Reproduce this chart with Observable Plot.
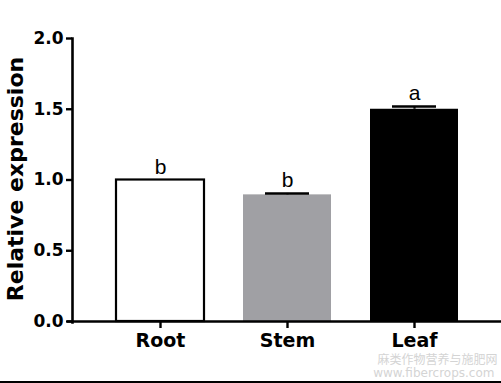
<!DOCTYPE html>
<html>
<head>
<meta charset="utf-8">
<script src="https://cdn.jsdelivr.net/npm/d3@7"></script>
<script src="https://cdn.jsdelivr.net/npm/@observablehq/plot@0.6"></script>
<style>
  html, body { margin: 0; padding: 0; background: #fff; }
  #chart { width: 501px; height: 381px; border-bottom: 2px solid #000; }
  #chart svg { display: block; }
</style>
</head>
<body>
<div id="chart"></div>
<script>
const tissues = ["Root", "Stem", "Leaf"];
const values = [1.0, 0.895, 1.50];
const errors = [0.0, 0.01, 0.02];
const letters = ["b", "b", "a"];
const fills = ["#ffffff", "#a0a0a4", "#000000"];
const yTicks = [0, 0.5, 1.0, 1.5, 2.0];
const yTitle = "Relative expression";
const watermark = ["麻类作物营养与施肥网", "www.fibercrops.com"];

const data = tissues.map((t, i) => ({
  tissue: t, value: values[i], err: errors[i], top: values[i] + errors[i],
  letter: letters[i], fill: fills[i]
}));

const boldFont = "DejaVu Sans, sans-serif";

const plot = Plot.plot({
  width: 501,
  height: 381,
  marginLeft: 72,
  marginRight: 0,
  marginTop: 38,
  marginBottom: 60,
  style: { background: "#fff", overflow: "visible" },
  x: { domain: tissues, range: [95.5, 478], paddingInner: 0.31, paddingOuter: 0.155, axis: null },
  y: { domain: [0, 2], axis: null },
  marks: [
    Plot.barY(data, {
      x: "tissue", y: "value", fill: d => d.fill,
      stroke: d => d.tissue === "Root" ? "#000" : "none", strokeWidth: 2.2
    }),
    Plot.ruleX(data.filter(d => d.err > 0), { x: "tissue", y1: "value", y2: "top", stroke: "#000", strokeWidth: 2.2 }),
    Plot.tickY(data.filter(d => d.err > 0), { x: "tissue", y: "top", stroke: "#000", strokeWidth: 2.5, insetLeft: 22, insetRight: 22 }),
    Plot.text(data, {
      x: "tissue", y: "top", text: "letter", dy: -13,
      fontSize: 21, fontFamily: "Liberation Sans, Arial, sans-serif", fill: "#000"
    }),
    // axes
    Plot.frame({ anchor: "left", stroke: "#000", strokeWidth: 2.6, insetBottom: -1 }),
    Plot.ruleY([0], { stroke: "#000", strokeWidth: 2.6, insetLeft: -5 }),
    Plot.axisY({
      ticks: yTicks, tickFormat: d3.format(".1f"), tickSize: 6, tickPadding: 3,
      stroke: "#000", strokeWidth: 2.4, fontSize: 17, fontWeight: "bold",
      fontFamily: boldFont, fill: "#000", label: null
    }),
    Plot.axisX({
      tickSize: 7, tickPadding: 5, stroke: "#000", strokeWidth: 2.4,
      fontSize: 19, fontWeight: "bold", fontFamily: boldFont, fill: "#000", label: null
    }),
    Plot.text([yTitle], {
      frameAnchor: "left", text: d => d, rotate: -90, dx: -57, dy: -1, textAnchor: "middle",
      fontSize: 22, fontWeight: "bold", fontFamily: boldFont, fill: "#000"
    }),
    Plot.text([watermark[0]], {
      frameAnchor: "bottom-right", text: d => d, dx: -4, dy: 42, textAnchor: "end",
      fontSize: 12, fontFamily: "Noto Sans CJK SC, sans-serif", fill: "#d4d4d4"
    }),
    Plot.text([watermark[1]], {
      frameAnchor: "bottom-right", text: d => d, dx: -7, dy: 55.5, textAnchor: "end",
      fontSize: 12, fontFamily: "DejaVu Sans, sans-serif", fill: "#d4d4d4"
    })
  ]
});
document.getElementById("chart").appendChild(plot);
</script>
</body>
</html>
